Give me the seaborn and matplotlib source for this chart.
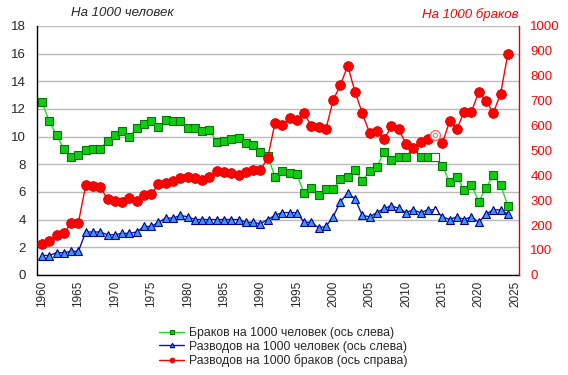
import numpy as np
import pandas as pd
import matplotlib
matplotlib.use("Agg")
import matplotlib.pyplot as plt
import seaborn as sns

years = list(range(1960, 2025))

# Браков на 1000 человек
marriages = [12.5, 11.1, 10.1, 9.1, 8.5, 8.7, 9.0, 9.1, 9.1, 9.7,
             10.1, 10.4, 10.0, 10.6, 10.9, 11.1, 10.7, 11.2, 11.1, 11.1,
             10.6, 10.6, 10.4, 10.5, 9.6, 9.7, 9.8, 9.9, 9.5, 9.4,
             8.9, 8.6, 7.1, 7.5, 7.4, 7.3, 5.9, 6.3, 5.8, 6.2,
             6.2, 6.9, 7.1, 7.6, 6.8, 7.5, 7.8, 8.9, 8.3, 8.5,
             8.5, 9.2, 8.5, 8.5, 8.5, 7.9, 6.7, 7.1, 6.1, 6.5,
             5.3, 6.3, 7.2, 6.5, 5.0]

# Разводов на 1000 человек
divorces = [1.4, 1.4, 1.6, 1.6, 1.7, 1.7, 3.1, 3.1, 3.1, 2.9,
            2.9, 3.0, 3.0, 3.1, 3.5, 3.5, 3.8, 4.1, 4.1, 4.3,
            4.2, 4.0, 4.0, 4.0, 4.0, 4.0, 4.0, 4.0, 3.8, 3.8,
            3.7, 4.0, 4.3, 4.5, 4.5, 4.5, 3.8, 3.8, 3.4, 3.5,
            4.2, 5.3, 5.9, 5.5, 4.3, 4.2, 4.5, 4.8, 5.0, 4.8,
            4.5, 4.7, 4.5, 4.7, 4.7, 4.2, 4.0, 4.2, 4.0, 4.2,
            3.8, 4.4, 4.7, 4.7, 4.4]

# Разводов на 1000 браков
div_per_marr = [122, 138, 161, 168, 207, 210, 359, 356, 351, 305,
                298, 294, 308, 298, 319, 323, 366, 368, 376, 390,
                395, 390, 383, 395, 419, 413, 409, 403, 413, 422,
                422, 468, 610, 601, 630, 621, 650, 597, 593, 585,
                702, 763, 840, 735, 650, 570, 578, 545, 597, 585,
                527, 509, 534, 546, 560, 528, 618, 586, 656, 656,
                735, 699, 651, 727, 888]

hollow_year = 2014

df = pd.DataFrame({"year": years, "marr": marriages, "div": divorces, "dpm": div_per_marr})
hol = df[df["year"] == hollow_year]

sns.set_style("white")
plt.rcParams["font.family"] = ["Liberation Sans", "DejaVu Sans"]

fig = plt.figure(figsize=(5.68, 3.75), dpi=100)
ax = fig.add_axes([0.065, 0.267, 0.849, 0.664])
ax2 = ax.twinx()

green_line = "#22DD22"
green_face = "#11CC11"
green_edge = "#007700"
blue_line = "#1111BB"
blue_face = "#3399FF"
blue_edge = "#000088"
red = "#FF0000"

sns.lineplot(data=df, x="year", y="marr", ax=ax, color=green_line, lw=1,
             marker="s", markersize=6.3, markerfacecolor=green_face,
             markeredgecolor=green_edge, markeredgewidth=0.8,
             label="Браков на 1000 человек (ось слева)", legend=False)
sns.lineplot(data=df, x="year", y="div", ax=ax, color=blue_line, lw=1,
             marker="^", markersize=6.3, markerfacecolor=blue_face,
             markeredgecolor=blue_edge, markeredgewidth=0.8,
             label="Разводов на 1000 человек (ось слева)", legend=False)
ax.plot(hol["year"], hol["marr"], ls="none", marker="s", markersize=6.3,
        markerfacecolor="white", markeredgecolor="#336633", markeredgewidth=0.8)
ax.plot(hol["year"], hol["div"], ls="none", marker="^", markersize=6.3,
        markerfacecolor="white", markeredgecolor=blue_edge, markeredgewidth=0.8)

sns.lineplot(data=df, x="year", y="dpm", ax=ax2, color=red, lw=1,
             marker="o", markersize=7, markerfacecolor=red,
             markeredgecolor="#DD0000", markeredgewidth=0.6,
             label="Разводов на 1000 браков (ось справа)", legend=False)
ax2.plot(hol["year"], hol["dpm"], ls="none", marker="o", markersize=7,
         markerfacecolor="white", markeredgecolor="#EE7777", markeredgewidth=1)
ax2.plot(hol["year"], hol["dpm"], ls="none", marker="o", markersize=3,
         markerfacecolor="none", markeredgecolor="#EE7777", markeredgewidth=0.8)

ax.set_xlim(1959.3, 2025.55)
ax.set_ylim(0, 18)
ax2.set_ylim(0, 1000)
ax.set_xticks(range(1960, 2026, 5))
ax.set_xticklabels([str(y) for y in range(1960, 2026, 5)], rotation=90, fontsize=8.5)
ax.set_yticks(range(0, 19, 2))
ax.tick_params(axis="y", labelsize=9.5, length=0, pad=8)
ax.tick_params(axis="x", length=0, pad=4)
ax2.set_yticks(range(0, 1001, 100))
ax2.tick_params(axis="y", labelsize=9.5, length=0, pad=8, labelcolor=red)
ax.set_xlabel("")
ax.set_ylabel("")
ax2.set_ylabel("")

ax.grid(axis="y", color="#BBBBBB", lw=1)
ax.set_axisbelow(True)
for a in (ax, ax2):
    a.spines["top"].set_visible(False)
ax2.spines["left"].set_visible(False)
ax2.spines["bottom"].set_visible(False)
ax.spines["left"].set_color("black")
ax.spines["bottom"].set_color("black")
ax.spines["right"].set_visible(False)
ax2.spines["right"].set_color("#DD0000")
for s in ("left", "bottom"):
    ax.spines[s].set_linewidth(1)
ax2.spines["right"].set_linewidth(1)

fig.text(0.125, 0.965, "На 1000 человек", fontsize=9.5, style="italic", va="center", ha="left")
fig.text(0.912, 0.962, "На 1000 браков", fontsize=9.5, style="italic", va="center", ha="right", color=red)

h1, l1 = ax.get_legend_handles_labels()
h2, l2 = ax2.get_legend_handles_labels()
leg = fig.legend(h1[:2] + h2[:1], l1[:2] + l2[:1], loc="upper left",
                 bbox_to_anchor=(0.272, 0.142 + 0.72), frameon=False, fontsize=8.8,
                 handlelength=2.0, handletextpad=0.4, labelspacing=0.15,
                 borderaxespad=0, markerscale=0.5)
leg.set_bbox_to_anchor((0.272, 1 - 322 / 375), transform=fig.transFigure)

fig.savefig("out.png", dpi=100)
